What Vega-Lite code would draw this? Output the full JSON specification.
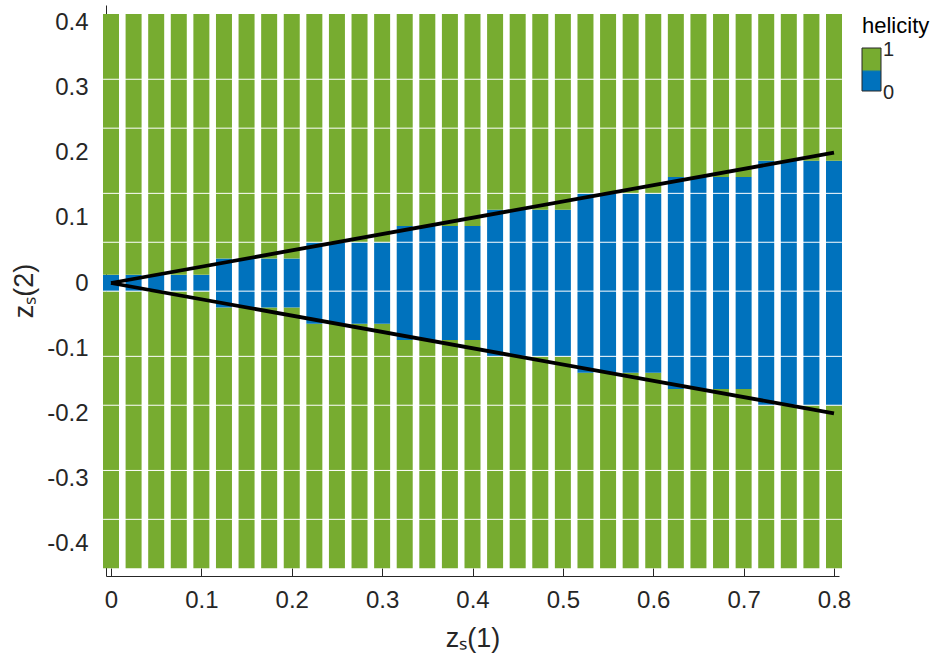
{
  "$schema": "https://vega.github.io/schema/vega-lite/v6.json",
  "width": 733,
  "height": 571,
  "autosize": {"type": "none"},
  "padding": {"left": 106, "top": 5, "right": 92, "bottom": 84},
  "background": "white",
  "config": {
    "view": {"stroke": null},
    "font": "Liberation Sans",
    "axis": {
      "labelFont": "Liberation Sans",
      "titleFont": "Liberation Sans",
      "labelColor": "#262626",
      "titleColor": "#262626",
      "domainColor": "#262626",
      "tickColor": "#262626",
      "grid": false,
      "labelFontSize": 24,
      "titleFontSize": 27,
      "titleFontWeight": "normal",
      "labelFlush": false,
      "labelOverlap": false
    },
    "legend": {
      "titleFont": "Liberation Sans",
      "labelFont": "Liberation Sans",
      "titleFontSize": 22,
      "titleFontWeight": "normal",
      "titleColor": "#000000",
      "labelFontSize": 20,
      "labelColor": "#262626",
      "gradientLength": 43,
      "gradientThickness": 19,
      "gradientStrokeColor": "#262626",
      "gradientStrokeWidth": 1,
      "labelOffset": 8
    }
  },
  "datasets": {
    "cells": [
      {"zs1": 0, "lo": -0.4375, "hi": -0.0125, "helicity": 1},
      {"zs1": 0, "lo": -0.0125, "hi": 0.0125, "helicity": 0},
      {"zs1": 0, "lo": 0.0125, "hi": 0.4125, "helicity": 1},
      {"zs1": 0.025, "lo": -0.4375, "hi": -0.0125, "helicity": 1},
      {"zs1": 0.025, "lo": -0.0125, "hi": 0.0125, "helicity": 0},
      {"zs1": 0.025, "lo": 0.0125, "hi": 0.4125, "helicity": 1},
      {"zs1": 0.05, "lo": -0.4375, "hi": -0.0125, "helicity": 1},
      {"zs1": 0.05, "lo": -0.0125, "hi": 0.0125, "helicity": 0},
      {"zs1": 0.05, "lo": 0.0125, "hi": 0.4125, "helicity": 1},
      {"zs1": 0.075, "lo": -0.4375, "hi": -0.0125, "helicity": 1},
      {"zs1": 0.075, "lo": -0.0125, "hi": 0.0125, "helicity": 0},
      {"zs1": 0.075, "lo": 0.0125, "hi": 0.4125, "helicity": 1},
      {"zs1": 0.1, "lo": -0.4375, "hi": -0.0125, "helicity": 1},
      {"zs1": 0.1, "lo": -0.0125, "hi": 0.0125, "helicity": 0},
      {"zs1": 0.1, "lo": 0.0125, "hi": 0.4125, "helicity": 1},
      {"zs1": 0.125, "lo": -0.4375, "hi": -0.0375, "helicity": 1},
      {"zs1": 0.125, "lo": -0.0375, "hi": 0.0375, "helicity": 0},
      {"zs1": 0.125, "lo": 0.0375, "hi": 0.4125, "helicity": 1},
      {"zs1": 0.15, "lo": -0.4375, "hi": -0.0375, "helicity": 1},
      {"zs1": 0.15, "lo": -0.0375, "hi": 0.0375, "helicity": 0},
      {"zs1": 0.15, "lo": 0.0375, "hi": 0.4125, "helicity": 1},
      {"zs1": 0.175, "lo": -0.4375, "hi": -0.0375, "helicity": 1},
      {"zs1": 0.175, "lo": -0.0375, "hi": 0.0375, "helicity": 0},
      {"zs1": 0.175, "lo": 0.0375, "hi": 0.4125, "helicity": 1},
      {"zs1": 0.2, "lo": -0.4375, "hi": -0.0375, "helicity": 1},
      {"zs1": 0.2, "lo": -0.0375, "hi": 0.0375, "helicity": 0},
      {"zs1": 0.2, "lo": 0.0375, "hi": 0.4125, "helicity": 1},
      {"zs1": 0.225, "lo": -0.4375, "hi": -0.0625, "helicity": 1},
      {"zs1": 0.225, "lo": -0.0625, "hi": 0.0625, "helicity": 0},
      {"zs1": 0.225, "lo": 0.0625, "hi": 0.4125, "helicity": 1},
      {"zs1": 0.25, "lo": -0.4375, "hi": -0.0625, "helicity": 1},
      {"zs1": 0.25, "lo": -0.0625, "hi": 0.0625, "helicity": 0},
      {"zs1": 0.25, "lo": 0.0625, "hi": 0.4125, "helicity": 1},
      {"zs1": 0.275, "lo": -0.4375, "hi": -0.0625, "helicity": 1},
      {"zs1": 0.275, "lo": -0.0625, "hi": 0.0625, "helicity": 0},
      {"zs1": 0.275, "lo": 0.0625, "hi": 0.4125, "helicity": 1},
      {"zs1": 0.3, "lo": -0.4375, "hi": -0.0625, "helicity": 1},
      {"zs1": 0.3, "lo": -0.0625, "hi": 0.0625, "helicity": 0},
      {"zs1": 0.3, "lo": 0.0625, "hi": 0.4125, "helicity": 1},
      {"zs1": 0.325, "lo": -0.4375, "hi": -0.0875, "helicity": 1},
      {"zs1": 0.325, "lo": -0.0875, "hi": 0.0875, "helicity": 0},
      {"zs1": 0.325, "lo": 0.0875, "hi": 0.4125, "helicity": 1},
      {"zs1": 0.35, "lo": -0.4375, "hi": -0.0875, "helicity": 1},
      {"zs1": 0.35, "lo": -0.0875, "hi": 0.0875, "helicity": 0},
      {"zs1": 0.35, "lo": 0.0875, "hi": 0.4125, "helicity": 1},
      {"zs1": 0.375, "lo": -0.4375, "hi": -0.0875, "helicity": 1},
      {"zs1": 0.375, "lo": -0.0875, "hi": 0.0875, "helicity": 0},
      {"zs1": 0.375, "lo": 0.0875, "hi": 0.4125, "helicity": 1},
      {"zs1": 0.4, "lo": -0.4375, "hi": -0.0875, "helicity": 1},
      {"zs1": 0.4, "lo": -0.0875, "hi": 0.0875, "helicity": 0},
      {"zs1": 0.4, "lo": 0.0875, "hi": 0.4125, "helicity": 1},
      {"zs1": 0.425, "lo": -0.4375, "hi": -0.1125, "helicity": 1},
      {"zs1": 0.425, "lo": -0.1125, "hi": 0.1125, "helicity": 0},
      {"zs1": 0.425, "lo": 0.1125, "hi": 0.4125, "helicity": 1},
      {"zs1": 0.45, "lo": -0.4375, "hi": -0.1125, "helicity": 1},
      {"zs1": 0.45, "lo": -0.1125, "hi": 0.1125, "helicity": 0},
      {"zs1": 0.45, "lo": 0.1125, "hi": 0.4125, "helicity": 1},
      {"zs1": 0.475, "lo": -0.4375, "hi": -0.1125, "helicity": 1},
      {"zs1": 0.475, "lo": -0.1125, "hi": 0.1125, "helicity": 0},
      {"zs1": 0.475, "lo": 0.1125, "hi": 0.4125, "helicity": 1},
      {"zs1": 0.5, "lo": -0.4375, "hi": -0.1125, "helicity": 1},
      {"zs1": 0.5, "lo": -0.1125, "hi": 0.1125, "helicity": 0},
      {"zs1": 0.5, "lo": 0.1125, "hi": 0.4125, "helicity": 1},
      {"zs1": 0.525, "lo": -0.4375, "hi": -0.1375, "helicity": 1},
      {"zs1": 0.525, "lo": -0.1375, "hi": 0.1375, "helicity": 0},
      {"zs1": 0.525, "lo": 0.1375, "hi": 0.4125, "helicity": 1},
      {"zs1": 0.55, "lo": -0.4375, "hi": -0.1375, "helicity": 1},
      {"zs1": 0.55, "lo": -0.1375, "hi": 0.1375, "helicity": 0},
      {"zs1": 0.55, "lo": 0.1375, "hi": 0.4125, "helicity": 1},
      {"zs1": 0.575, "lo": -0.4375, "hi": -0.1375, "helicity": 1},
      {"zs1": 0.575, "lo": -0.1375, "hi": 0.1375, "helicity": 0},
      {"zs1": 0.575, "lo": 0.1375, "hi": 0.4125, "helicity": 1},
      {"zs1": 0.6, "lo": -0.4375, "hi": -0.1375, "helicity": 1},
      {"zs1": 0.6, "lo": -0.1375, "hi": 0.1375, "helicity": 0},
      {"zs1": 0.6, "lo": 0.1375, "hi": 0.4125, "helicity": 1},
      {"zs1": 0.625, "lo": -0.4375, "hi": -0.1625, "helicity": 1},
      {"zs1": 0.625, "lo": -0.1625, "hi": 0.1625, "helicity": 0},
      {"zs1": 0.625, "lo": 0.1625, "hi": 0.4125, "helicity": 1},
      {"zs1": 0.65, "lo": -0.4375, "hi": -0.1625, "helicity": 1},
      {"zs1": 0.65, "lo": -0.1625, "hi": 0.1625, "helicity": 0},
      {"zs1": 0.65, "lo": 0.1625, "hi": 0.4125, "helicity": 1},
      {"zs1": 0.675, "lo": -0.4375, "hi": -0.1625, "helicity": 1},
      {"zs1": 0.675, "lo": -0.1625, "hi": 0.1625, "helicity": 0},
      {"zs1": 0.675, "lo": 0.1625, "hi": 0.4125, "helicity": 1},
      {"zs1": 0.7, "lo": -0.4375, "hi": -0.1625, "helicity": 1},
      {"zs1": 0.7, "lo": -0.1625, "hi": 0.1625, "helicity": 0},
      {"zs1": 0.7, "lo": 0.1625, "hi": 0.4125, "helicity": 1},
      {"zs1": 0.725, "lo": -0.4375, "hi": -0.1875, "helicity": 1},
      {"zs1": 0.725, "lo": -0.1875, "hi": 0.1875, "helicity": 0},
      {"zs1": 0.725, "lo": 0.1875, "hi": 0.4125, "helicity": 1},
      {"zs1": 0.75, "lo": -0.4375, "hi": -0.1875, "helicity": 1},
      {"zs1": 0.75, "lo": -0.1875, "hi": 0.1875, "helicity": 0},
      {"zs1": 0.75, "lo": 0.1875, "hi": 0.4125, "helicity": 1},
      {"zs1": 0.775, "lo": -0.4375, "hi": -0.1875, "helicity": 1},
      {"zs1": 0.775, "lo": -0.1875, "hi": 0.1875, "helicity": 0},
      {"zs1": 0.775, "lo": 0.1875, "hi": 0.4125, "helicity": 1},
      {"zs1": 0.8, "lo": -0.4375, "hi": -0.1875, "helicity": 1},
      {"zs1": 0.8, "lo": -0.1875, "hi": 0.1875, "helicity": 0},
      {"zs1": 0.8, "lo": 0.1875, "hi": 0.4125, "helicity": 1}
    ],
    "seams": [
      {"zs2": 0.3125}, {"zs2": 0.2375}, {"zs2": 0.1375}, {"zs2": 0.0625},
      {"zs2": -0.0125}, {"zs2": -0.1125}, {"zs2": -0.1875}, {"zs2": -0.2875}, {"zs2": -0.3625}
    ],
    "bounds": [
      {"zs1": 0, "zs2": 0, "edge": "upper"},
      {"zs1": 0.8, "zs2": 0.2, "edge": "upper"},
      {"zs1": 0, "zs2": 0, "edge": "lower"},
      {"zs1": 0.8, "zs2": -0.2, "edge": "lower"}
    ]
  },
  "layer": [
    {
      "data": {"name": "cells"},
      "mark": {"type": "bar", "size": 16, "stroke": null},
      "encoding": {
        "x": {
          "field": "zs1", "type": "quantitative",
          "scale": {"domain": [0, 0.8], "nice": false, "zero": false},
          "axis": {
            "values": [0, 0.1, 0.2, 0.3, 0.4, 0.5, 0.6, 0.7, 0.8],
            "labelExpr": "'' + datum.value",
            "labelFlush": false,
            "labelAlign": "center",
            "tickSize": -8,
            "labelPadding": 20,
            "titlePadding": 13
          },
          "title": "zₛ(1)"
        },
        "y": {
          "field": "lo", "type": "quantitative",
          "scale": {"domain": [-0.4494, 0.4264], "nice": false, "zero": false},
          "axis": {
            "values": [-0.4, -0.3, -0.2, -0.1, 0, 0.1, 0.2, 0.3, 0.4],
            "labelExpr": "'' + datum.value",
            "labelFlush": false,
            "ticks": false,
            "labelPadding": 18,
            "titlePadding": 8
          },
          "title": "zₛ(2)"
        },
        "y2": {"field": "hi"},
        "color": {
          "field": "helicity", "type": "quantitative",
          "scale": {
            "type": "linear",
            "domain": [0, 0.5, 0.5, 1],
            "range": ["#0072BD", "#0072BD", "#77AC30", "#77AC30"],
            "zero": false, "nice": false
          },
          "legend": {
            "type": "gradient",
            "orient": "none",
            "legendX": 756,
            "legendY": 11,
            "values": [0, 1],
            "labelExpr": "'' + datum.value",
            "title": "helicity",
            "direction": "vertical",
            "titlePadding": 10,
            "encode": {
              "labels": {"update": {"baseline": {"value": "middle"}, "dy": {"value": 2}}}
            }
          }
        }
      }
    },
    {
      "data": {"name": "seams"},
      "mark": {"type": "rule", "color": "white", "strokeWidth": 1},
      "encoding": {
        "x": {"datum": -0.00875, "type": "quantitative", "scale": {"domain": [0, 0.8], "nice": false, "zero": false}, "title": "zₛ(1)"},
        "x2": {"datum": 0.80875},
        "y": {"field": "zs2", "type": "quantitative", "scale": {"domain": [-0.4494, 0.4264], "nice": false, "zero": false}, "title": "zₛ(2)"}
      }
    },
    {
      "data": {"name": "bounds"},
      "mark": {"type": "line", "color": "black", "strokeWidth": 3.8},
      "encoding": {
        "x": {"field": "zs1", "type": "quantitative", "scale": {"domain": [0, 0.8], "nice": false, "zero": false}, "title": "zₛ(1)"},
        "y": {"field": "zs2", "type": "quantitative", "scale": {"domain": [-0.4494, 0.4264], "nice": false, "zero": false}, "title": "zₛ(2)"},
        "detail": {"field": "edge", "type": "nominal"}
      }
    }
  ]
}
